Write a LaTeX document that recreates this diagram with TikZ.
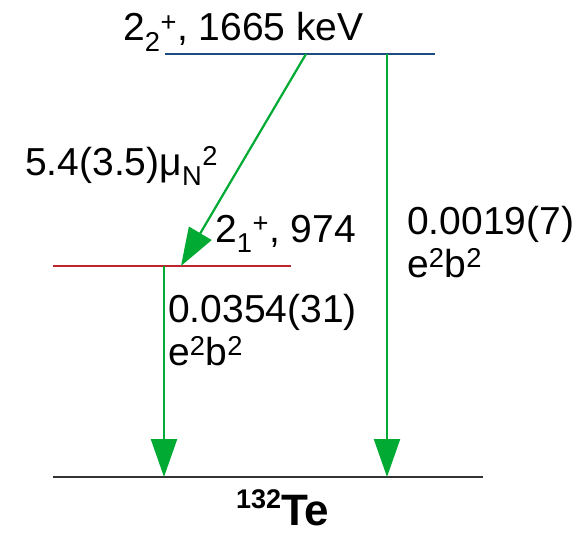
\documentclass[tikz,border=0pt]{standalone}
\usepackage{fontspec}
\setmainfont{Liberation Sans}
\usetikzlibrary{arrows.meta}
\definecolor{trgreen}{RGB}{0,170,51}
\definecolor{lvblue}{RGB}{28,76,128}
\definecolor{lvred}{RGB}{190,35,45}

\begin{document}
\begin{tikzpicture}[x=1pt,y=-1pt,
  trans/.style={draw=trgreen,line width=2.2pt,-{Triangle[length=38pt,width=26pt,fill=trgreen]}},
  lbl/.style={anchor=base west,inner sep=0pt,font=\fontsize{39}{43}\selectfont}]
  \useasboundingbox (0,0) rectangle (585,532);
  % levels
  \coordinate (topL) at (165,54);  \coordinate (topR) at (435,54);
  \coordinate (midL) at (53,266);  \coordinate (midR) at (291,266);
  \coordinate (gsL) at (53,477);   \coordinate (gsR) at (483,477);
  \draw[lvblue,line width=2.6pt] (topL) -- (topR);
  \draw[lvred,line width=2.6pt] (midL) -- (midR);
  \draw[black!80,line width=1.2pt] (gsL) -- (gsR);
  % transitions
  \coordinate (tA) at (306,54);  \coordinate (mA) at (181,266);
  \coordinate (tB) at (387,54);  \coordinate (gB) at (387,477);
  \coordinate (mC) at (164,266); \coordinate (gC) at (164,477);
  \draw[trans] (tA) -- (mA);
  \draw[trans] (tB) -- (gB);
  \draw[trans] (mC) -- (gC);
  % labels
  \node[lbl] (topLbl) at (123,41){2\textsubscript{2}\textsuperscript{+}, 1665 keV};
  \node[lbl] (midLbl) at (215,242){2\textsubscript{1}\textsuperscript{+}, 974};
  \node[lbl] (mLbl) at (25,175){5.4(3.5)μ\textsubscript{N}\textsuperscript{2}};
  \node[lbl,align=left] (bLbl) at (407,277){0.0019(7)\\e\textsuperscript{2}b\textsuperscript{2}};
  \node[lbl,align=left] (cLbl) at (168,365){0.0354(31)\\e\textsuperscript{2}b\textsuperscript{2}};
  \node[anchor=base west,inner sep=0pt,font=\bfseries\fontsize{44}{48}\selectfont] (nucLbl) at (236,525){\raisebox{17pt}{\fontsize{27}{29}\selectfont 132}Te};
\end{tikzpicture}
\end{document}
